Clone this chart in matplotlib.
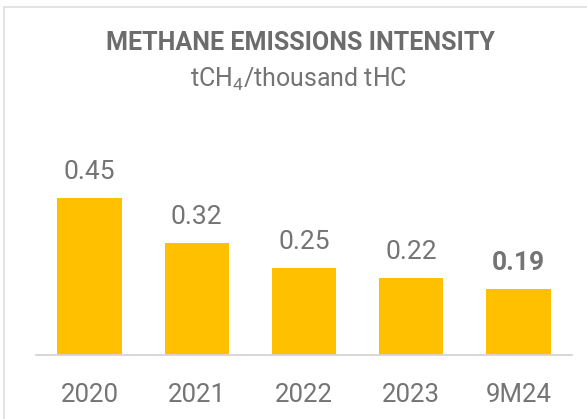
import matplotlib
matplotlib.use("Agg")
import matplotlib.pyplot as plt
from matplotlib.lines import Line2D

categories = ["2020", "2021", "2022", "2023", "9M24"]
values = [0.45, 0.32, 0.25, 0.22, 0.19]
value_labels = ["0.45", "0.32", "0.25", "0.22", "0.19"]

bar_color = "#FFC000"
text_color = "#747474"
title_color = "#6c6c6c"

plt.rcParams["font.family"] = ["Roboto", "DejaVu Sans"]
plt.rcParams["mathtext.fontset"] = "custom"
plt.rcParams["mathtext.rm"] = "Roboto"
plt.rcParams["mathtext.it"] = "Roboto"

W, H = 587, 419
fig = plt.figure(figsize=(W / 100, H / 100), dpi=100)

ymax = 0.70
px_per_unit = 349.6
ax = fig.add_axes([36 / W, 64 / H, 536 / W, ymax * px_per_unit / H])

x = list(range(len(categories)))
ax.bar(x, values, width=0.6, color=bar_color, zorder=2)
ax.set_xlim(-0.5, len(categories) - 0.5)
ax.set_ylim(0, ymax)

for i, (v, lab) in enumerate(zip(values, value_labels)):
    ax.annotate(lab, (i, v), xytext=(0, 13.5), textcoords="offset points",
                ha="center", va="baseline", fontsize=19, color=text_color,
                fontweight="bold" if i == len(values) - 1 else "normal")

for s in ["top", "right", "left"]:
    ax.spines[s].set_visible(False)
ax.spines["bottom"].set_color("#d4d4d4")
ax.spines["bottom"].set_linewidth(1.3)
ax.set_yticks([])
ax.set_xticks(x)
ax.set_xticklabels(categories, fontsize=18.5, color=text_color)
ax.tick_params(axis="x", length=0, pad=20)

fig.text(300 / W, (H - 50) / H, "METHANE EMISSIONS INTENSITY", ha="center",
         va="baseline", fontsize=18, fontweight="bold", color=title_color)
fig.text(299 / W, (H - 87) / H, r"tCH$_4$/thousand tHC", ha="center",
         va="baseline", fontsize=18, color=text_color)

# light frame on top and left
fig.add_artist(Line2D([4 / W, 1], [1 - 7 / H, 1 - 7 / H], transform=fig.transFigure,
                      color="#dedede", lw=1.2))
fig.add_artist(Line2D([4 / W, 4 / W], [0, 1 - 7 / H], transform=fig.transFigure,
                      color="#dedede", lw=1.2))

fig.savefig("out.png", dpi=100)
